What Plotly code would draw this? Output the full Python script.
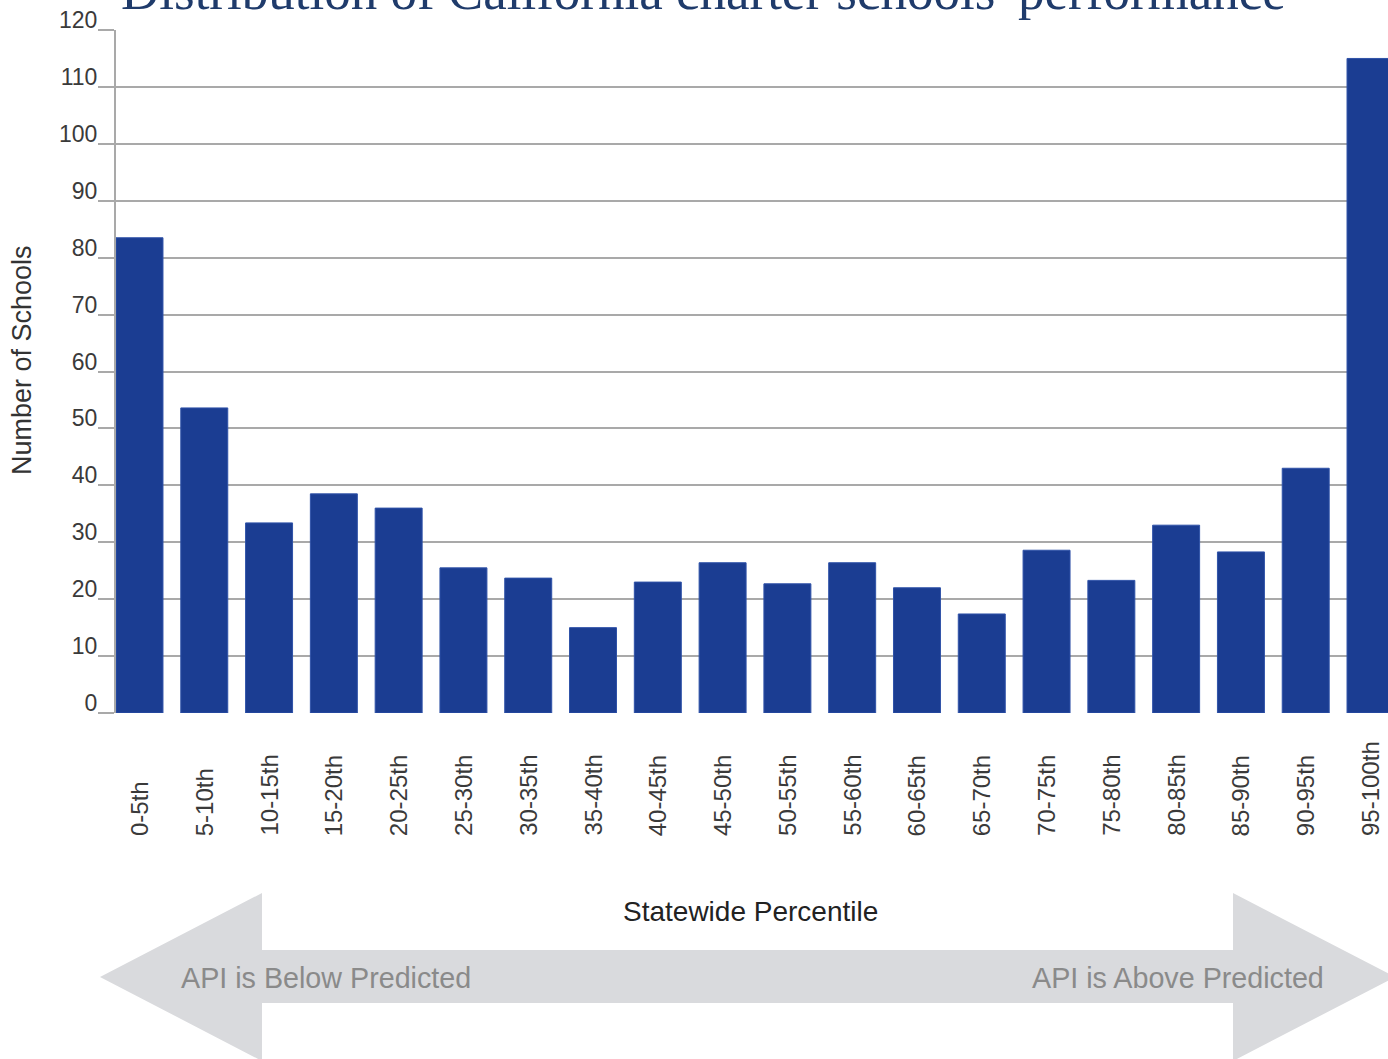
import plotly.graph_objects as go

categories = ["0-5th", "5-10th", "10-15th", "15-20th", "20-25th", "25-30th", "30-35th",
              "35-40th", "40-45th", "45-50th", "50-55th", "55-60th", "60-65th", "65-70th",
              "70-75th", "75-80th", "80-85th", "85-90th", "90-95th", "95-100th"]
schools = [83.5, 53.6, 33.4, 38.5, 36, 25.5, 23.7, 15, 23, 26.4, 22.7, 26.4, 22, 17.4,
           28.6, 23.3, 33, 28.3, 43, 115]
y_ticks = [0, 10, 20, 30, 40, 50, 60, 70, 80, 90, 100, 110, 120]

title_text = "Distribution of California charter schools' performance"
x_title = "Statewide Percentile"
y_title = "Number of Schools"
left_note = "API is Below Predicted"
right_note = "API is Above Predicted"

W, H = 1388, 1059
X0, X1, Y0, Y1 = 116, 1388, 30, 713  # plot area in pixels
ML, MT = X0, Y0
MR = W - X1
MB = H - Y1
PW, PH = X1 - X0, Y1 - Y0


def px(x):
    return (x - X0) / PW


def py(y):
    return (Y1 - y) / PH


BAR = "#1b3d92"
GRID = "#a9a9a9"

fig = go.Figure()
fig.add_trace(go.Bar(x=list(range(len(categories))), y=schools,
                     marker=dict(color=BAR, line=dict(color="#2f52a8", width=1)),
                     width=0.725, showlegend=False))

# double arrow
pts = [(100, 977), (262, 893), (262, 950), (1233, 950), (1233, 893), (1395, 977),
       (1233, 1061), (1233, 1003), (262, 1003), (262, 1061)]
path = "M " + " L ".join(f"{px(a):.5f},{py(b):.5f}" for a, b in pts) + " Z"
shapes = [dict(type="path", path=path, xref="paper", yref="paper",
               fillcolor="#d9dadd", line=dict(width=0), layer="below")]

annotations = []
for i, c in enumerate(categories):
    annotations.append(dict(x=i, y=py(838), xref="x", yref="paper", text=c,
                            textangle=-90, showarrow=False, xanchor="center",
                            yanchor="bottom",
                            font=dict(family="Liberation Sans", size=24, color="#3a3a3a")))
annotations += [
    dict(x=px(703), y=py(22), xref="paper", yref="paper", text=title_text,
         showarrow=False, xanchor="center", yanchor="bottom",
         font=dict(family="Liberation Serif", size=53, color="#1f3b6b")),
    dict(x=px(22), y=py(360), xref="paper", yref="paper", text=y_title,
         textangle=-90, showarrow=False, xanchor="center", yanchor="middle",
         font=dict(family="Liberation Sans", size=27, color="#333333")),
    dict(x=px(750), y=py(912), xref="paper", yref="paper", text=x_title,
         showarrow=False, xanchor="center", yanchor="middle",
         font=dict(family="Liberation Sans", size=28, color="#222222")),
    dict(x=px(326), y=py(978), xref="paper", yref="paper", text=left_note,
         showarrow=False, xanchor="center", yanchor="middle",
         font=dict(family="Liberation Sans", size=28.7, color="#8a8a8a")),
    dict(x=px(1178), y=py(978), xref="paper", yref="paper", text=right_note,
         showarrow=False, xanchor="center", yanchor="middle",
         font=dict(family="Liberation Sans", size=28.7, color="#8a8a8a")),
]

fig.update_layout(
    width=W, height=H,
    margin=dict(l=ML, r=MR, t=MT, b=MB, pad=0),
    paper_bgcolor="white", plot_bgcolor="white",
    shapes=shapes, annotations=annotations,
    xaxis=dict(range=[-0.3625, 19.27], showticklabels=False, showgrid=False,
               zeroline=False, showline=False, ticks=""),
    yaxis=dict(range=[0, 120], tickvals=y_ticks, showgrid=True, gridcolor=GRID,
               gridwidth=2, zeroline=False, showline=True, linecolor=GRID, linewidth=2,
               ticks="outside", ticklen=16, tickcolor=GRID, tickwidth=2,
               ticklabelshift=-10, ticklabelstandoff=-4,
               tickfont=dict(family="Liberation Sans", size=23, color="#3a3a3a")),
)

fig.write_html("out.html", config={"displayModeBar": False},
               post_script="document.body.style.margin='0';document.body.style.overflow='hidden';")
